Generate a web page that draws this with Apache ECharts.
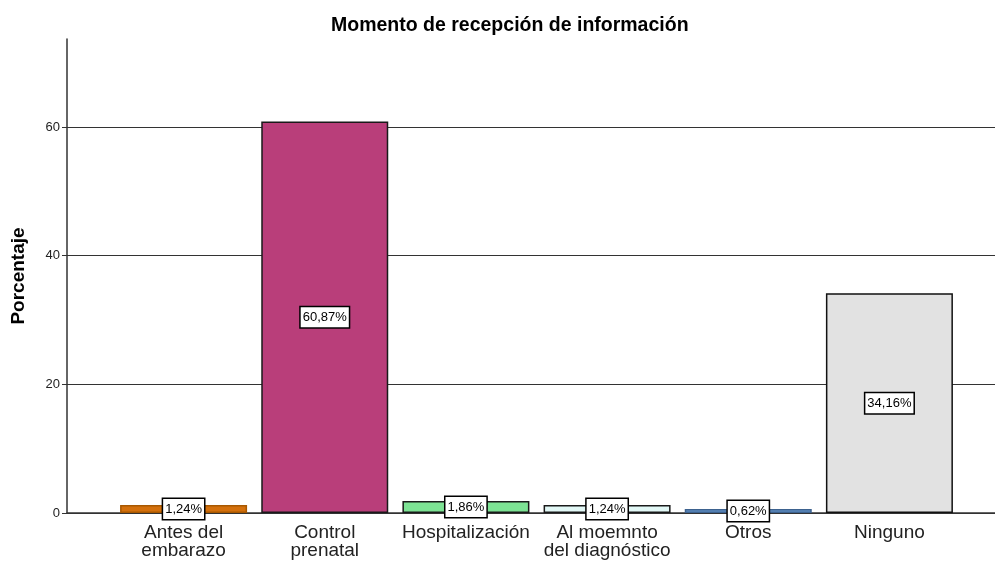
<!DOCTYPE html>
<html>
<head>
<meta charset="utf-8">
<script src="https://cdn.jsdelivr.net/npm/echarts@6/dist/echarts.min.js"></script>
<style>
  html, body { margin: 0; padding: 0; background: #fff; }
  #chart { width: 995px; height: 562px; }
</style>
</head>
<body>
<div id="chart"></div>
<script>
  // datos
  const categorias = ['Antes del\nembarazo', 'Control\nprenatal', 'Hospitalización', 'Al moemnto\ndel diagnóstico', 'Otros', 'Ninguno']
  const porcentajes = [1.24, 60.87, 1.86, 1.24, 0.62, 34.16]
  const colores = ['#d4700c', '#b93e7a', '#7de394', '#e2f8f6', '#6a9bd0', '#e2e2e2']
  const bordes = ['#a85800', '#1a1a1a', '#1a1a1a', '#1a1a1a', '#3d628f', '#111111']
  const yMax = 73.7

  const font = "'Liberation Sans', Arial, sans-serif"
  const chart = echarts.init(document.getElementById('chart'))

  chart.setOption({
    animation: false,
    textStyle: { fontFamily: font },
    title: {
      text: 'Momento de recepción de información',
      left: 326,
      top: 11,
      textStyle: { fontSize: 19.5, fontWeight: 'bold', color: '#000', fontFamily: font }
    },
    grid: [
      // marco: eje Y y lineas de referencia a todo el ancho
      { left: 67, right: 0, top: 39, bottom: 49, outerBoundsMode: 'none', containLabel: false },
      // barras
      { left: 113, right: 35, top: 39, bottom: 49, outerBoundsMode: 'none', containLabel: false }
    ],
    xAxis: [
      {
        gridIndex: 0,
        type: 'category',
        data: [''],
        axisLine: { show: true, lineStyle: { color: '#333', width: 1.5 } },
        axisTick: { show: false },
        axisLabel: { show: false }
      },
      {
        gridIndex: 1,
        type: 'category',
        data: categorias,
        axisLine: { show: false },
        axisTick: { show: false },
        axisLabel: {
          interval: 0,
          fontSize: 19,
          lineHeight: 18,
          margin: 11,
          color: '#222',
          fontFamily: font
        }
      }
    ],
    yAxis: [
      {
        gridIndex: 0,
        type: 'value',
        min: 0,
        max: yMax,
        interval: 20,
        name: 'Porcentaje',
        nameLocation: 'middle',
        nameGap: 39,
        nameTextStyle: { fontSize: 19, fontWeight: 'bold', color: '#000', fontFamily: font },
        axisLine: { show: true, lineStyle: { color: '#333', width: 1.5 } },
        axisTick: { show: true, length: 5, lineStyle: { color: '#333' } },
        axisLabel: { fontSize: 13, color: '#222', margin: 7, showMaxLabel: false, fontFamily: font },
        splitLine: {
          show: true,
          showMaxLine: false,
          lineStyle: { color: '#333', width: 1 }
        }
      },
      {
        gridIndex: 1,
        type: 'value',
        min: 0,
        max: yMax,
        show: false,
        splitLine: { show: false }
      }
    ],
    series: [
      {
        name: 'Porcentaje',
        type: 'bar',
        xAxisIndex: 1,
        yAxisIndex: 1,
        barWidth: 127,
        data: porcentajes.map(function (v, i) {
          return {
            value: v,
            itemStyle: { color: colores[i], borderColor: bordes[i], borderWidth: 1.5 }
          }
        }),
        label: {
          show: true,
          position: 'inside',
          formatter: function (p) {
            return p.value.toFixed(2).replace('.', ',') + '%'
          },
          fontSize: 13,
          color: '#000',
          fontFamily: font,
          backgroundColor: '#fff',
          borderColor: '#000',
          borderWidth: 1.5,
          padding: [4, 2, 3, 2]
        }
      }
    ]
  })
</script>
</body>
</html>
